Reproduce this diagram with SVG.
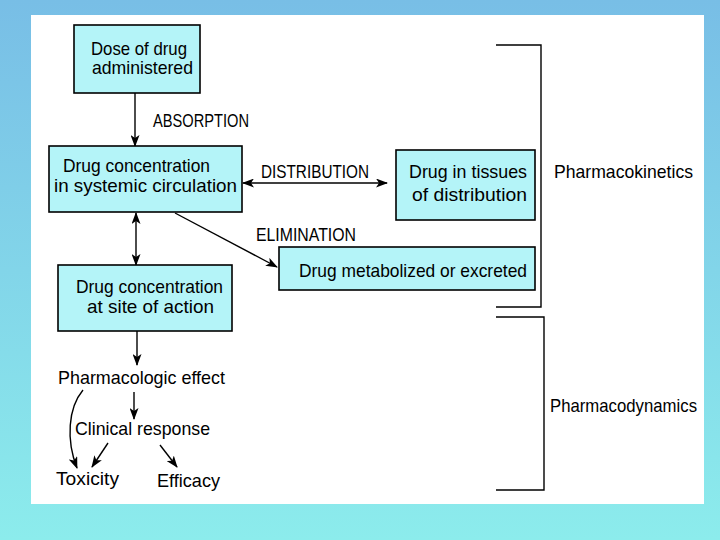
<svg xmlns="http://www.w3.org/2000/svg" width="720" height="540" viewBox="0 0 720 540">
<defs>
<linearGradient id="bg" x1="0" y1="0" x2="0" y2="1">
<stop offset="0" stop-color="#78BEE6"/>
<stop offset="1" stop-color="#8CECEC"/>
</linearGradient>
<marker id="ah" viewBox="0 0 12 9" refX="11" refY="4.5" markerWidth="12" markerHeight="9" markerUnits="userSpaceOnUse" orient="auto-start-reverse">
<path d="M0,0 L12,4.5 L0,9 L3,4.5 z" fill="#000"/>
</marker>
<style>
.box{fill:#B4F4F8;stroke:#000;stroke-width:1.6}
.t{font-family:"Liberation Sans","DejaVu Sans",sans-serif;font-size:19px;fill:#000}
.c{fill:none;stroke:#000;stroke-width:1.4}
.br{fill:none;stroke:#000;stroke-width:1.4}
</style>
</defs>
<rect x="0" y="0" width="720" height="540" fill="url(#bg)"/>
<rect x="31" y="15" width="673" height="489" fill="#fff"/>

<g id="connectors">
<line class="c" x1="135" y1="93" x2="135" y2="146" marker-end="url(#ah)"/>
<line class="c" x1="243" y1="183" x2="387" y2="183" marker-start="url(#ah)" marker-end="url(#ah)"/>
<line class="c" x1="136" y1="213" x2="136" y2="265" marker-start="url(#ah)" marker-end="url(#ah)"/>
<line class="c" x1="175" y1="213" x2="277" y2="267" marker-end="url(#ah)"/>
<line class="c" x1="137" y1="331" x2="137" y2="365" marker-end="url(#ah)"/>
<line class="c" x1="134" y1="392" x2="134" y2="419" marker-end="url(#ah)"/>
<path class="c" d="M83,390 C68,408 66,440 77,468" marker-end="url(#ah)"/>
<line class="c" x1="108" y1="443" x2="92" y2="467" marker-end="url(#ah)"/>
<line class="c" x1="160" y1="445" x2="177" y2="467" marker-end="url(#ah)"/>
</g>

<g id="dose">
<rect class="box" x="74" y="25" width="126" height="68"/>
<text class="t" x="91" y="55" textLength="96" lengthAdjust="spacingAndGlyphs">Dose of drug</text>
<text class="t" x="92" y="74" textLength="101" lengthAdjust="spacingAndGlyphs">administered</text>
</g>

<g id="systemic">
<rect class="box" x="49" y="146" width="193" height="66"/>
<text class="t" x="63" y="172" textLength="147" lengthAdjust="spacingAndGlyphs">Drug concentration</text>
<text class="t" x="54" y="192" textLength="183" lengthAdjust="spacingAndGlyphs">in systemic circulation</text>
</g>

<g id="tissues">
<rect class="box" x="396" y="150" width="139" height="70"/>
<text class="t" x="409" y="178" textLength="118" lengthAdjust="spacingAndGlyphs">Drug in tissues</text>
<text class="t" x="412" y="201" textLength="115" lengthAdjust="spacingAndGlyphs">of distribution</text>
</g>

<g id="metabolized">
<rect class="box" x="279" y="247" width="256" height="43"/>
<text class="t" x="299" y="277" textLength="228" lengthAdjust="spacingAndGlyphs">Drug metabolized or excreted</text>
</g>

<g id="site">
<rect class="box" x="58" y="265" width="174" height="66"/>
<text class="t" x="76" y="293" textLength="147" lengthAdjust="spacingAndGlyphs">Drug concentration</text>
<text class="t" x="87" y="313" textLength="127" lengthAdjust="spacingAndGlyphs">at site of action</text>
</g>

<g id="labels">
<text class="t" x="153" y="127" textLength="96" lengthAdjust="spacingAndGlyphs">ABSORPTION</text>
<text class="t" x="261" y="178" textLength="108" lengthAdjust="spacingAndGlyphs">DISTRIBUTION</text>
<text class="t" x="256" y="241" textLength="100" lengthAdjust="spacingAndGlyphs">ELIMINATION</text>
</g>

<g id="effect">
<text class="t" x="58" y="384" textLength="167" lengthAdjust="spacingAndGlyphs">Pharmacologic effect</text>
</g>
<g id="clinical">
<text class="t" x="75" y="435" textLength="135" lengthAdjust="spacingAndGlyphs">Clinical response</text>
</g>
<g id="toxicity">
<text class="t" x="56" y="485" textLength="63" lengthAdjust="spacingAndGlyphs">Toxicity</text>
</g>
<g id="efficacy">
<text class="t" x="157" y="487" textLength="63" lengthAdjust="spacingAndGlyphs">Efficacy</text>
</g>

<g id="pharmacokinetics">
<polyline class="br" points="496,45 541,45 541,307 496,307"/>
<text class="t" x="554" y="178" textLength="139" lengthAdjust="spacingAndGlyphs">Pharmacokinetics</text>
</g>
<g id="pharmacodynamics">
<polyline class="br" points="496,317 544,317 544,490 496,490"/>
<text class="t" x="550" y="412" textLength="147" lengthAdjust="spacingAndGlyphs">Pharmacodynamics</text>
</g>
</svg>
